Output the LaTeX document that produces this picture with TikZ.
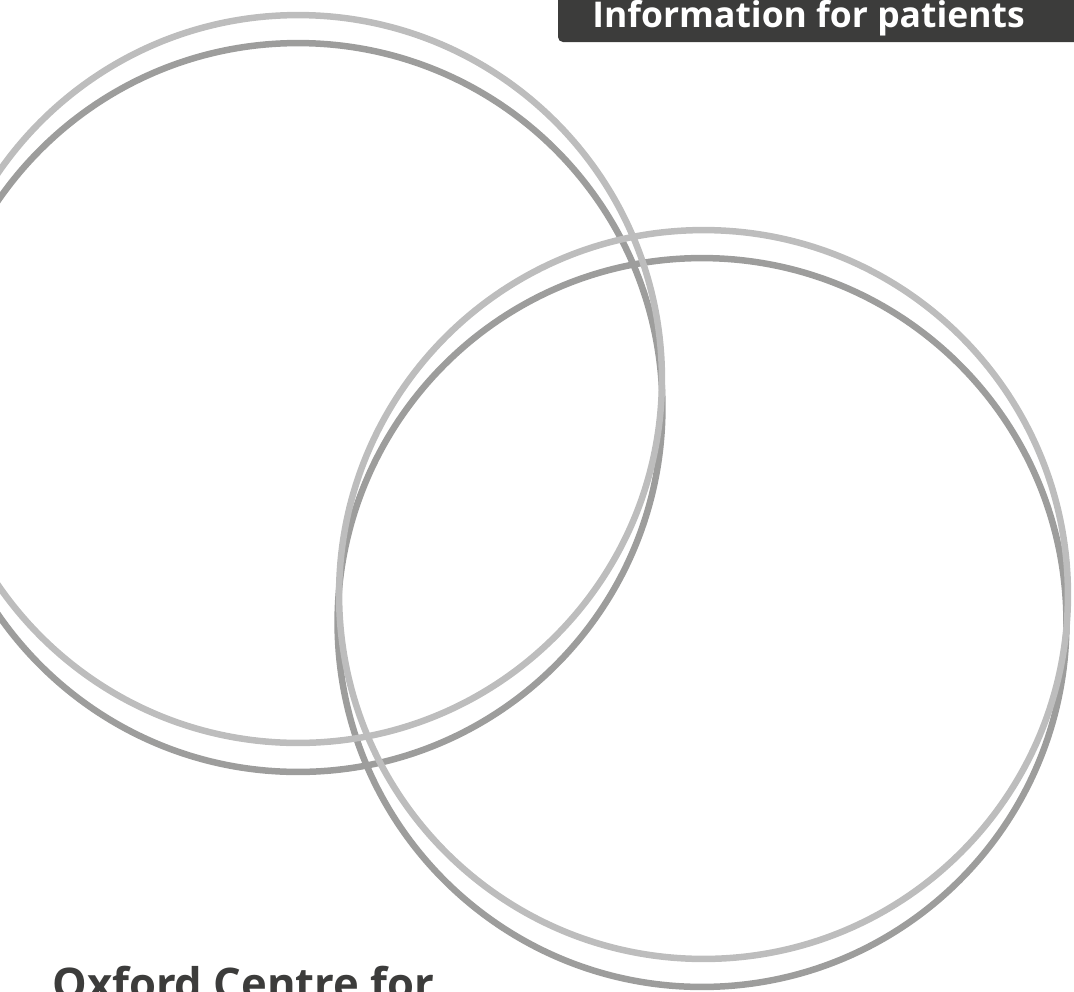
\documentclass[tikz,border=0pt]{standalone}
\usepackage{fontspec}
\setsansfont{Open Sans}
\usepackage{tikz}
\usetikzlibrary{positioning}
\definecolor{ringlight}{RGB}{189,189,189}
\definecolor{ringdark}{RGB}{157,157,156}
\definecolor{bannerdark}{RGB}{60,60,59}
\tikzset{
  ring/.style={line width=0.13cm},
  lightring/.style={ring, draw=ringlight},
  darkring/.style={ring, draw=ringdark},
  bannertext/.style={font=\sffamily\bfseries\fontsize{20.2}{24}\selectfont,
    text=white, inner sep=0pt},
  titletext/.style={font=\sffamily\bfseries\fontsize{24.8}{28}\selectfont,
    text=bannerdark, inner sep=0pt}
}

\begin{document}
\begin{tikzpicture}[x=0.02cm, y=-0.02cm]
  \useasboundingbox (0,0) rectangle (1074,991);
  \clip (0,0) rectangle (1074,991);
  % ring centres
  \coordinate (tllight) at (298,379);
  \coordinate (tldark) at (298,407.5);
  \coordinate (brlight) at (703.5,594.5);
  \coordinate (brdark) at (702,622.5);
  % dark rings behind, light rings in front
  \draw[darkring] (tldark) circle [radius=7.29cm];
  \draw[darkring] (brdark) circle [radius=7.29cm];
  \draw[lightring] (tllight) circle [radius=7.28cm];
  \draw[lightring] (brlight) circle [radius=7.29cm];
  % banner
  \fill[bannerdark] (1074,-5) -- (558,-5) [rounded corners=0.1cm] -- (558,42)
    [sharp corners] -- (1074,42) -- cycle;
  \node[bannertext, anchor=base west] (info) at (592,27.5) {Information for patients};
  \node[titletext, anchor=base west] (title) at (52,999) {Oxford Centre for};
\end{tikzpicture}
\end{document}
